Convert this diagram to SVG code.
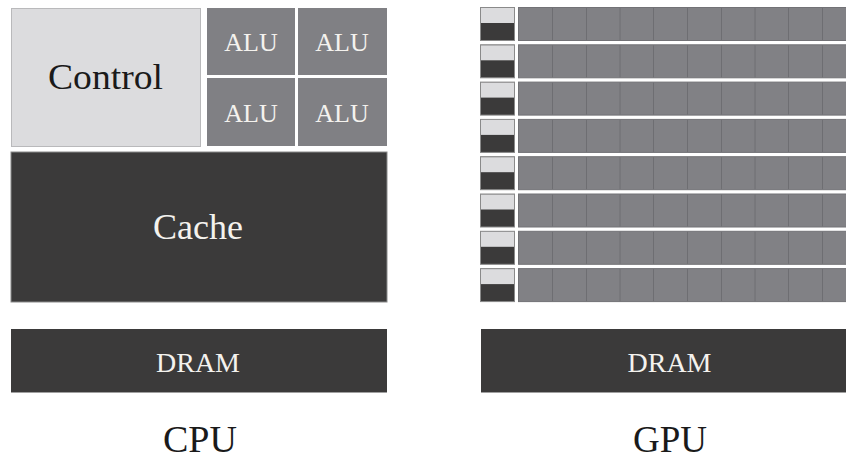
<svg xmlns="http://www.w3.org/2000/svg" width="846" height="461" viewBox="0 0 846 461">
<style>
text{font-family:"Liberation Serif","DejaVu Serif","Times New Roman",serif;text-anchor:middle}
.ctrl{fill:#dcdcde;stroke:#b9b9bb;stroke-width:1}
.alu{fill:#808084}
.dark{fill:#3b3a3a}
.row{fill:#818185;stroke:#727276;stroke-width:1}
.cell{stroke:#6e6e72;stroke-width:1}
.w{fill:#f4f2ee}
</style>
<defs>
<g id="gpurow">
<rect x="480.5" y="0.5" width="34" height="33" fill="#3b3a3a" stroke="#8a8a8a"/>
<rect x="481" y="1" width="33" height="15" fill="#dcdcde"/>
<rect x="518.5" y="0.5" width="330" height="33" class="row"/>
<path class="cell" d="M552.5 1V33M586.5 1V33M620 1V33M653.5 1V33M687.5 1V33M721.5 1V33M755 1V33M788.5 1V33M822.5 1V33"/>
</g>
</defs>
<rect width="846" height="461" fill="#ffffff"/>
<g id="cpu">
<g id="control"><rect x="11.5" y="8.5" width="189" height="138" class="ctrl"/><text x="105.5" y="89" font-size="36" textLength="115" lengthAdjust="spacingAndGlyphs" fill="#1a1a1a">Control</text></g>
<g id="alu1"><rect x="207" y="8" width="88" height="67" class="alu"/><text class="w" x="251" y="51" font-size="26">ALU</text></g>
<g id="alu2"><rect x="298" y="8" width="89" height="67" class="alu"/><text class="w" x="342" y="51" font-size="26">ALU</text></g>
<g id="alu3"><rect x="207" y="78" width="88" height="68" class="alu"/><text class="w" x="251" y="121.5" font-size="26">ALU</text></g>
<g id="alu4"><rect x="298" y="78" width="89" height="68" class="alu"/><text class="w" x="342" y="121.5" font-size="26">ALU</text></g>
<g id="cache"><rect x="11" y="152" width="376" height="150" class="dark" stroke="#8a8a8a" stroke-width="1"/><text class="w" x="198" y="239" font-size="36">Cache</text></g>
<g id="dram-cpu"><rect x="11" y="329" width="376" height="63" class="dark"/><line x1="11" y1="392.5" x2="387" y2="392.5" stroke="#a0a0a0"/><text class="w" x="198" y="372" font-size="28" textLength="84" lengthAdjust="spacingAndGlyphs">DRAM</text></g>
<g id="label-cpu"><text x="200" y="452" font-size="38" textLength="74" lengthAdjust="spacingAndGlyphs" fill="#1a1a1a">CPU</text></g>
</g>
<g id="gpu">
<g id="gpu-rows">
<use href="#gpurow" y="7"/>
<use href="#gpurow" y="44.3"/>
<use href="#gpurow" y="81.6"/>
<use href="#gpurow" y="118.9"/>
<use href="#gpurow" y="156.2"/>
<use href="#gpurow" y="193.5"/>
<use href="#gpurow" y="230.8"/>
<use href="#gpurow" y="268.1"/>
</g>
<g id="dram-gpu"><rect x="481" y="329" width="370" height="63" class="dark"/><line x1="481" y1="392.5" x2="846" y2="392.5" stroke="#a0a0a0"/><text class="w" x="669.5" y="372" font-size="28" textLength="84" lengthAdjust="spacingAndGlyphs">DRAM</text></g>
<g id="label-gpu"><text x="670" y="452" font-size="38" textLength="74" lengthAdjust="spacingAndGlyphs" fill="#1a1a1a">GPU</text></g>
</g>
<g id="connectors"></g>
</svg>
